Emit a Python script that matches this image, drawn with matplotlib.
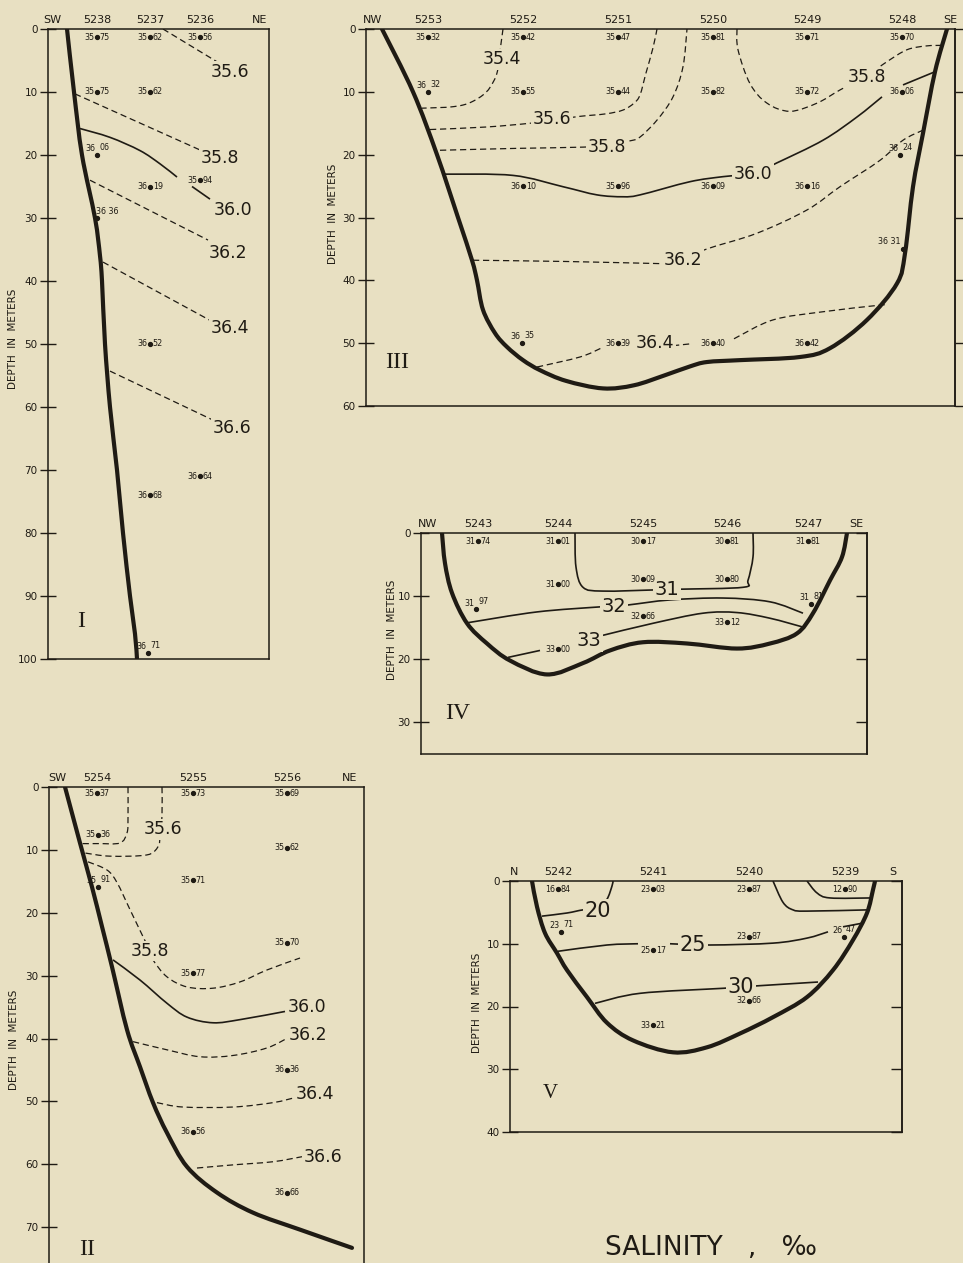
import matplotlib.pyplot as plt
import numpy as np
from matplotlib.patches import PathPatch
from matplotlib.path import Path

BG = "#e8e0c2"
INK = "#1f1b14"
W, H = 963, 1263
nan = np.nan

# ---------------- Section I ----------------
I_STATIONS = ["SW", "5238", "5237", "5236", "NE"]
I_STATION_X = [4, 49, 102, 152, 212]
I_BOTTOM_X = [19, 26, 34, 47, 52, 54, 57, 62, 69, 75, 82, 87, 89]
I_BOTTOM_D = [0, 10, 20, 30, 36, 40, 50, 60, 70, 80, 90, 96, 100]
I_LINES = [
    ("35.6", False, [115, 169], [0, 5.2], 182, 6.8),
    ("35.8", False, [27, 152], [10.3, 19.2], 172, 20.5),
    ("36.0", True, [32, 62, 92, 112, 129, nan, 144, 162], [15.8, 17.2, 19.3, 21.4, 23.5, nan, 25, 27], 185, 28.7),
    ("36.2", False, [42, 160], [24, 33.5], 180, 35.6),
    ("36.4", False, [55, 165], [37, 46.5], 182, 47.5),
    ("36.6", False, [62, 164], [54.3, 62], 184, 63.3),
]
I_SAMPLES = [
    (49, 1.3, "35.75", ""), (102, 1.3, "35.62", ""), (152, 1.3, "35.56", ""),
    (49, 10, "35.75", ""), (102, 10, "35.62", ""),
    (49, 20, "36.06", "raised"), (102, 25, "36.19", ""), (152, 24, "35.94", ""),
    (49, 30, "36.36", "right"), (102, 50, "36.52", ""), (102, 74, "36.68", ""),
    (152, 71, "36.64", ""), (100, 99, "36.71", "raised"),
]

# ---------------- Section III ----------------
III_STATIONS = ["NW", "5253", "5252", "5251", "5250", "5249", "5248", "SE"]
III_STATION_X = [7, 62, 157, 252, 347, 441, 536, 584]
III_BOTTOM_X = [16, 47, 71, 92, 106, 111, 117, 129, 141, 157, 174, 200, 237, 268, 299, 324,
                341, 374, 434, 464, 501, 531, 539, 547, 557, 569, 581]
III_BOTTOM_D = [0, 10, 20, 30, 36.8, 40, 44.7, 48.4, 50.6, 52.7, 54.3, 56, 57.2, 56.7, 55.1,
                53.7, 53, 52.7, 52.2, 50.8, 46.3, 40.5, 35.7, 25.1, 16.6, 6.8, 0]
III_LINES = [
    ("35.4", False, [137, 134, 131, 124, 117, 107, 97, 85, 74, 56],
     [0, 3.5, 7, 9.3, 10.5, 11.5, 12.1, 12.4, 12.5, 12.6], 136, 4.8),
    ("35.6", False, [64, 120, 164, 186, 214, 240, 257, 268, 274, 280, 287, 291],
     [16, 15.6, 15, 14.5, 13.9, 13.5, 12.9, 11.8, 10.5, 7, 3, 0], 186, 14.3),
    ("35.8", False, [74, 150, 217, 241, 264, 274, 291, 307, 317, 321],
     [19.3, 19, 18.8, 18.5, 17.8, 17.2, 14.5, 10.8, 6, 0], 241, 18.8),
    ("35.8", False, [371, 372, 384, 401, 424, 451, 474, 501, 521, 541, 560, 577],
     [0, 3.3, 8.7, 11.8, 13.1, 11.8, 9.7, 7.4, 5.2, 3.3, 2.7, 2.6], 501, 7.7),
    ("36.0", True, [79, 147, 197, 231, 257, 274, 324, 357, 387, 411, 457, 491, 516, nan, 537, 569],
     [23.1, 23.3, 25.1, 26.4, 26.7, 26.4, 24.3, 23.5, 23, 21.3, 17.7, 14, 10.8, nan, 8.9, 6.8], 387, 23),
    ("36.2", False, [107, 200, 284, 300, 317, 341, 391, 441, 474, 514, 537, 557],
     [36.8, 37, 37.3, 37.3, 36.7, 35, 32.5, 28.8, 25.1, 20.9, 17.7, 16.1], 317, 36.7),
    ("36.4", False, [171, 214, 235, nan, 307, 325, nan, 368, 407, 457, 511, 519],
     [53.8, 52.2, 50.8, nan, 50.4, 50.1, nan, 49.3, 46.3, 45, 44, 43.9], 289, 50),
]
III_SAMPLES = [
    (62, 1.3, "35.32", ""), (157, 1.3, "35.42", ""), (252, 1.3, "35.47", ""),
    (347, 1.3, "35.81", ""), (441, 1.3, "35.71", ""), (536, 1.3, "35.70", ""),
    (62, 10, "36.32", "raised"), (157, 10, "35.55", ""), (252, 10, "35.44", ""),
    (347, 10, "35.82", ""), (441, 10, "35.72", ""), (536, 10, "36.06", ""),
    (157, 25, "36.10", ""), (252, 25, "35.96", ""), (347, 25, "36.09", ""),
    (441, 25, "36.16", ""), (534, 20, "36.24", "raised"), (537, 35, "36.31", "left"),
    (156, 50, "36.35", "raised"), (252, 50, "36.39", ""), (347, 50, "36.40", ""),
    (441, 50, "36.42", ""),
]

# ---------------- Section IV ----------------
IV_STATIONS = ["NW", "5243", "5244", "5245", "5246", "5247", "SE"]
IV_STATION_X = [7, 57, 137, 222, 306, 387, 435]
IV_BOTTOM_X = [21, 24, 31, 46, 66, 89, 126, 162, 189, 222, 266, 316, 349, 376, 392, 409, 421, 426]
IV_BOTTOM_D = [0, 4.8, 9.5, 14.3, 17.5, 20.2, 22.4, 20.6, 18.6, 17.3, 17.5, 18.3, 17.5,
               15.9, 12.7, 7.5, 3.8, 0]
IV_LINES = [
    ("31", True, [154, 155, 162, 182, 236, 259, 322, 327, 332, 332],
     [0, 5.4, 8.6, 9.2, 9, 8.9, 8.6, 7.5, 3.8, 0], 246, 8.9),
    ("32", True, [47, 116, 179, 192, 207, 249, 302, 349, 382],
     [14.2, 12.5, 11.7, 11.6, 11.4, 10.6, 10.3, 10.9, 12.7], 193, 11.7),
    ("33", True, [87, 119, nan, 182, 232, 282, 316, 349, 382],
     [19.7, 18.6, nan, 16.2, 14.3, 12.7, 12.6, 13.5, 14.9], 168, 17.1),
]
IV_SAMPLES = [
    (57, 1.3, "31.74", ""), (137, 1.3, "31.01", ""), (222, 1.3, "30.17", ""),
    (306, 1.3, "30.81", ""), (387, 1.3, "31.81", ""),
    (55, 12.1, "31.97", "raised"), (137, 8.1, "31.00", ""), (222, 7.3, "30.09", ""),
    (306, 7.3, "30.80", ""), (390, 11.2, "31.81", "raised"),
    (137, 18.4, "33.00", ""), (222, 13.2, "32.66", ""), (306, 14.1, "33.12", ""),
]

# ---------------- Section II ----------------
II_STATIONS = ["SW", "5254", "5255", "5256", "NE"]
II_STATION_X = [8, 48, 144, 238, 301]
II_BOTTOM_X = [16, 31, 43, 53, 63, 78, 91, 104, 118, 138, 168, 204, 251, 303]
II_BOTTOM_D = [0, 8.9, 15.9, 22.2, 28.6, 38.6, 44.5, 50.2, 55, 60.4, 64.5, 67.7, 70.4, 73.3]
II_LINES = [
    ("", False, [79, 79, 78, 71, 50, 32], [0, 5, 7.3, 8.9, 9, 9], 0, 0),
    ("35.6", False, [113, 113, 111, 109, 98, 61, 36], [0, 4.5, 8, 9.5, 10.8, 11, 10.5], 114, 6.7),
    ("35.8", False, [39, 58, 68, 81, 94, 101, 104, 118, 138, 164, 191, 218, 251],
     [11.9, 13.2, 15.2, 19.5, 23.8, 26.1, 27.5, 30.2, 31.8, 32, 31, 29.1, 27.2], 101, 26.1),
    ("36.0", True, [64, 91, 118, 138, 164, 191, 236], [27.5, 30.7, 34.4, 36.6, 37.5, 37, 35.7], 258, 35),
    ("36.2", False, [84, 118, 151, 184, 218, 240], [40.5, 41.8, 42.9, 42.7, 41.5, 39.8], 259, 39.4),
    ("36.4", False, [108, 134, 184, 224, 246], [50.2, 50.9, 50.9, 50.2, 49.4], 266, 48.8),
    ("36.6", False, [148, 184, 224, 253], [60.6, 60.1, 59.6, 58.8], 274, 58.8),
]
II_SAMPLES = [
    (48, 1, "35.37", ""), (144, 1, "35.73", ""), (238, 1, "35.69", ""),
    (49, 7.6, "35.36", ""), (238, 9.7, "35.62", ""),
    (49, 15.9, "35.91", "raised"), (144, 14.8, "35.71", ""),
    (238, 24.8, "35.70", ""), (144, 29.6, "35.77", ""),
    (238, 45, "36.36", ""), (144, 54.8, "36.56", ""), (238, 64.5, "36.66", ""),
]

# ---------------- Section V ----------------
V_STATIONS = ["N", "5242", "5241", "5240", "5239", "S"]
V_STATION_X = [4, 48, 143, 239, 335, 383]
V_BOTTOM_X = [22, 27, 35, 47, 57, 77, 97, 123, 163, 197, 230, 263, 297, 323, 343, 357, 363, 365]
V_BOTTOM_D = [0, 4.1, 8.3, 11.5, 14.2, 18.5, 22.6, 25.4, 27.3, 26.5, 24.3, 21.7, 18.5,
              14.2, 9.4, 5.1, 1.4, 0]
V_LINES = [
    ("20", True, [32, 57, 73, 88, 97, 102, 103], [5.6, 5.1, 4.6, 4.4, 2.9, 0.8, 0], 88, 4.8),
    ("", True, [297, 307, 320, 361], [0, 1.9, 2.7, 2.7], 0, 0),
    ("", True, [263, 273, 283, 297, 358], [0, 3.4, 4.6, 4.8, 4.6], 0, 0),
    ("25", True, [48, 97, 128, nan, 160, 200, 263, 297, 318, nan, 333, 353],
     [11.2, 10.2, 10, nan, 10, 10.2, 9.9, 9.1, 8.1, nan, 7.3, 6.7], 183, 10.2),
    ("30", True, [85, 130, 213, 230, 248, 308], [19.5, 17.9, 17.1, 16.9, 16.7, 16.1], 231, 16.9),
]
V_SAMPLES = [
    (48, 1.3, "16.84", ""), (143, 1.3, "23.03", ""), (239, 1.3, "23.87", ""),
    (335, 1.3, "12.90", ""), (51, 8.1, "23.71", "raised"), (143, 11, "25.17", ""),
    (143, 23, "33.21", ""), (239, 8.9, "23.87", ""), (239, 19.1, "32.66", ""),
    (334, 8.9, "26.47", "raised"),
]

plt.rcParams["font.family"] = ["DejaVu Sans"]
fig = plt.figure(figsize=(W / 100, H / 100), dpi=100, facecolor=BG)


def smooth_path(xs, ds):
    # hand-drawn look: pass a Catmull-Rom style Bezier through the read-off points
    pts = np.column_stack([xs, ds]).astype(float)
    breaks = np.where(np.isnan(pts[:, 0]))[0]
    verts, codes = [], []
    for seg in np.split(pts, breaks):
        seg = seg[~np.isnan(seg[:, 0])]
        if len(seg) < 2:
            continue
        verts.append(seg[0])
        codes.append(Path.MOVETO)
        for i in range(len(seg) - 1):
            p0 = seg[i - 1] if i > 0 else seg[i]
            p1, p2 = seg[i], seg[i + 1]
            p3 = seg[i + 2] if i + 2 < len(seg) else seg[i + 1]
            verts += [p1 + (p2 - p0) / 6, p2 - (p3 - p1) / 6, p2]
            codes += [Path.CURVE4] * 3
    return Path(verts, codes)


def section(rect, depth_max, yticks, stations, station_x, label_off, label_y, right=None):
    x0, y0, x1, y1 = rect
    ax = fig.add_axes([x0 / W, 1 - y1 / H, (x1 - x0) / W, (y1 - y0) / H])
    ax.set_facecolor("none")
    ax.set_xlim(0, x1 - x0)
    ax.set_ylim(depth_max, 0)
    for s in ax.spines.values():
        s.set_color(INK)
        s.set_linewidth(1.1)
    ax.xaxis.tick_top()
    ax.set_xticks(station_x, stations)
    ax.tick_params(axis="x", length=0, pad=3, labelsize=8, colors=INK)
    ax.set_yticks(yticks)
    ax.tick_params(axis="y", direction="inout", length=12, width=1, pad=1.5, labelsize=7.5,
                   colors=INK)
    ax.set_ylabel("DEPTH  IN  METERS", fontsize=7.5, color=INK)
    ax.yaxis.set_label_coords(-label_off / (x1 - x0), label_y)
    if right:
        sec = ax.secondary_yaxis("right")
        sec.set_yticks(yticks)
        sec.tick_params(direction=right, length=8, width=1, labelright=False, colors=INK)
        sec.spines["right"].set_color(INK)
        sec.spines["right"].set_linewidth(1.1)
    return ax


def draw(ax, bx, bd, lines, samples, numeral, nx, nd, label_size=12.5, numeral_size=17):
    ax.add_patch(PathPatch(smooth_path(bx, bd), fill=False, ec=INK, lw=3,
                           capstyle="round", joinstyle="round", zorder=3))
    for label, solid, xs, ds, lx, ld in lines:
        ax.add_patch(PathPatch(smooth_path(xs, ds), fill=False, ec=INK,
                               lw=1.2 if solid else 0.9,
                               ls="-" if solid else (0, (5, 3)), zorder=2))
        if label:
            ax.text(lx, ld, label, fontsize=label_size, ha="center", va="center", color=INK,
                    zorder=4, bbox=dict(boxstyle="square,pad=0.08", fc=BG, ec="none"))
    for x, d, value, mode in samples:
        a, b = value.split(".")
        ax.plot(x, d, "o", ms=2.8, color=INK, zorder=5)
        kw = dict(textcoords="offset points", va="center", fontsize=5.8, color=INK, zorder=5)
        if mode == "":
            ax.annotate(a, (x, d), xytext=(-2, 0), ha="right", **kw)
            ax.annotate(b, (x, d), xytext=(2, 0), ha="left", **kw)
        elif mode == "raised":
            ax.annotate(a, (x, d), xytext=(-1, 4.5), ha="right", **kw)
            ax.annotate(b, (x, d), xytext=(1.5, 5.5), ha="left", **kw)
        elif mode == "left":
            ax.annotate(a + " " + b, (x, d), xytext=(-2, 5), ha="right", **kw)
        else:
            ax.annotate(a + " " + b, (x, d), xytext=(-1, 5), ha="left", **kw)
    ax.text(nx, nd, numeral, fontsize=numeral_size, family="Liberation Serif",
            ha="center", va="center", color=INK)


ax1 = section((48, 29, 269, 659), 100, range(0, 101, 10), I_STATIONS, I_STATION_X, 30, 0.508)
draw(ax1, I_BOTTOM_X, I_BOTTOM_D, I_LINES, I_SAMPLES, "I", 33, 94)

ax3 = section((366, 29, 955, 406), 60, range(0, 61, 10), III_STATIONS, III_STATION_X, 28, 0.51,
              right="out")
draw(ax3, III_BOTTOM_X, III_BOTTOM_D, III_LINES, III_SAMPLES, "III", 31, 53)

ax4 = section((421, 533, 867, 754), 35, range(0, 31, 10), IV_STATIONS, IV_STATION_X, 24, 0.56,
              right="in")
draw(ax4, IV_BOTTOM_X, IV_BOTTOM_D, IV_LINES, IV_SAMPLES, "IV", 37, 28.6, label_size=14)

ax2 = section((49, 787, 364, 1290), 80, range(0, 71, 10), II_STATIONS, II_STATION_X, 30, 0.497)
draw(ax2, II_BOTTOM_X, II_BOTTOM_D, II_LINES, II_SAMPLES, "II", 38, 73.6)

ax5 = section((510, 881, 902, 1132), 40, range(0, 41, 10), V_STATIONS, V_STATION_X, 28, 0.514,
              right="in")
draw(ax5, V_BOTTOM_X, V_BOTTOM_D, V_LINES, V_SAMPLES, "V", 40, 33.8, label_size=15,
     numeral_size=15)

fig.text(605 / W, 1 - 1248 / H, "SALINITY   ,   \u2030", fontsize=19, ha="left", va="center",
         color=INK)

fig.savefig("out.png", dpi=100, facecolor=BG)
